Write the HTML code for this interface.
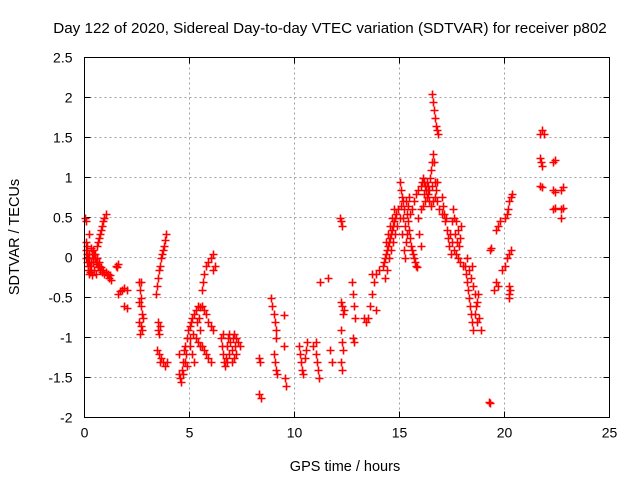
<!DOCTYPE html>
<html><head><meta charset="utf-8"><style>
body{margin:0;background:#fff;}
svg{display:block;font-family:"Liberation Sans",sans-serif;}
</style></head><body>
<svg id="chart" width="640" height="480" viewBox="0 0 640 480">
<text x="330" y="33" font-size="15.2" text-anchor="middle" fill="#000">Day 122 of 2020, Sidereal Day-to-day VTEC variation (SDTVAR) for receiver p802</text>
<text x="345" y="471" font-size="14.5" text-anchor="middle">GPS time / hours</text>
<text transform="translate(19,237) rotate(-90)" font-size="14.5" text-anchor="middle">SDTVAR / TECUs</text>
<g id="grid"></g>
<g id="ticks"></g>
<g id="marks"></g>
<rect x="84.5" y="57.5" width="525" height="360" fill="none" stroke="#000" stroke-width="1"/>
</svg>
<script>
const xTicks=[0,5,10,15,20,25];
const yTicks=[-2,-1.5,-1,-0.5,0,0.5,1,1.5,2,2.5];
const yTickLabels=["-2","-1.5","-1","-0.5","0","0.5","1","1.5","2","2.5"];
const vtec=[
[0.02,0.5],[0.05,0.45],[0.05,0.2],[0.08,0.1],[0.1,0.15],[0.1,-0.05],[0.12,0.05],[0.15,0],[0.18,-0.1],[0.2,0.05],[0.22,-0.05],[0.25,-0.1],[0.3,-0.05],[0.35,0.05],[0.4,0.1],[0.45,0.05],[0.5,0],[0.55,-0.05],[0.6,-0.08],[0.65,-0.12],[0.7,-0.1],[0.75,-0.15],[0.8,-0.12],[0.85,-0.18],[0.9,-0.15],[0.95,-0.2],[1.0,-0.18],[1.05,-0.22],[1.1,-0.2],[1.15,-0.25],[1.2,-0.22],[1.25,-0.28],
[0.3,-0.15],[0.4,-0.05],[0.5,0.05],[0.6,0.15],[0.7,0.25],[0.8,0.35],[0.9,0.45],[1.0,0.55],[0.65,0.2],[0.75,0.3],[0.85,0.4],[0.95,0.5],
[0.15,-0.15],[0.25,-0.18],[0.35,-0.22],[0.45,-0.15],[0.55,-0.2],[0.2,0.3],[0.3,0.12],[0.05,0.0],[0.1,0.05],[0.2,-0.2],[0.4,0.0],[0.6,0.0],[0.7,-0.05],
[1.5,-0.1],[1.55,-0.12],[1.6,-0.08],
[1.6,-0.45],[1.7,-0.42],[1.8,-0.4],[1.9,-0.38],[2.0,-0.4],[1.9,-0.6],[2.0,-0.63],
[2.6,-0.3],[2.65,-0.4],[2.7,-0.5],[2.7,-0.6],[2.75,-0.7],[2.6,-0.8],[2.7,-0.85],[2.75,-0.9],[2.65,-0.95],[2.8,-0.75],[2.6,-0.55],[2.7,-0.3],
[3.4,-0.45],[3.45,-0.35],[3.5,-0.25],[3.55,-0.15],[3.6,-0.1],[3.65,0.0],[3.7,0.05],[3.75,0.1],[3.8,0.15],[3.85,0.22],[3.9,0.3],
[3.5,-0.8],[3.5,-0.9],[3.55,-0.95],[3.6,-0.85],
[3.45,-1.15],[3.55,-1.2],[3.65,-1.25],[3.75,-1.3],[3.85,-1.35],[3.95,-1.3],[3.6,-1.3],
[4.5,-1.2],[4.5,-1.45],[4.55,-1.5],[4.6,-1.55],[4.65,-1.4],[4.7,-1.3],[4.75,-1.15],[4.8,-1.1],[4.85,-1.2],[4.9,-1.0],[4.95,-0.9],[5.0,-0.85],[5.05,-0.8],[5.1,-0.75],[5.0,-1.1],[5.1,-1.2],[5.2,-1.3],[4.9,-1.35],[4.7,-1.45],[4.8,-1.3],[5.0,-1.0],[5.15,-0.95],
[5.2,-0.7],[5.3,-0.65],[5.4,-0.6],[5.5,-0.62],[5.6,-0.6],[5.7,-0.65],[5.8,-0.7],[5.9,-0.8],[6.0,-0.85],[6.1,-0.9],[5.3,-1.0],[5.4,-1.05],[5.5,-1.1],[5.6,-1.1],[5.7,-1.15],[5.8,-1.2],[5.9,-1.25],[6.0,-1.3],[5.5,-0.9],[5.6,-0.4],[5.65,-0.3],[5.7,-0.2],[5.8,-0.1],[5.9,-0.05],[6.0,0.0],[6.1,0.05],[6.2,-0.1],[6.1,-0.15],[5.35,-0.8],[5.45,-0.75],
[6.5,-1.0],[6.55,-1.1],[6.6,-1.2],[6.65,-1.3],[6.7,-1.35],[6.75,-1.25],[6.8,-1.1],[6.85,-1.0],[6.9,-0.95],[6.95,-1.05],[7.0,-1.15],[7.05,-1.0],[7.1,-0.95],[7.15,-1.1],[7.2,-1.0],[7.3,-1.05],[7.4,-1.1],[6.8,-1.3],[7.0,-1.3],[7.2,-1.2],[6.6,-0.95],[6.9,-1.2],[7.1,-1.25],
[8.3,-1.25],[8.35,-1.3],[8.3,-1.7],[8.4,-1.75],
[8.9,-0.5],[8.95,-0.6],[9.0,-0.7],[9.05,-0.8],[9.1,-0.9],[9.1,-1.0],[9.0,-1.2],[9.05,-1.3],[9.1,-1.4],[9.15,-1.45],[9.5,-0.72],[9.5,-1.1],[9.55,-1.5],[9.6,-1.6],
[10.2,-1.1],[10.25,-1.2],[10.3,-1.3],[10.35,-1.4],[10.4,-1.45],[10.5,-1.25],[10.55,-1.15],[10.6,-1.05],
[10.9,-1.1],[11.0,-1.2],[11.05,-1.3],[11.1,-1.4],[11.15,-1.5],[11.2,-0.3],[11.6,-0.25],[11.7,-1.15],[11.8,-1.3],[11.0,-1.05],
[12.15,0.5],[12.2,0.45],[12.25,0.4],[12.2,-0.55],[12.25,-0.6],[12.3,-0.7],[12.2,-0.9],[12.25,-1.05],[12.3,-1.15],[12.2,-1.3],[12.25,-1.4],[12.35,-0.65],
[12.75,-0.3],[12.8,-0.45],[12.85,-0.6],[12.9,-0.75],[12.8,-1.0],[12.85,-1.05],
[13.3,-0.75],[13.4,-0.8],[13.5,-0.75],[13.6,-0.6],[13.7,-0.45],[13.8,-0.3],[13.9,-0.2],[14.0,-0.15],[13.7,-0.2],[13.9,-0.65],
[14.2,-0.1],[14.25,-0.05],[14.3,0.0],[14.35,0.05],[14.4,0.1],[14.45,0.15],[14.5,0.2],[14.55,0.25],[14.6,0.3],[14.65,0.35],[14.7,0.4],[14.75,0.45],[14.8,0.5],[14.85,0.55],[14.4,-0.15],[14.5,0.0],[14.6,0.1],[14.7,0.2],[14.8,0.3],[14.9,0.4],[14.3,-0.25],[14.35,0.2],[14.45,0.3],[14.55,0.4],[14.65,0.5],[14.75,0.6],[14.95,0.6],
[15.0,0.95],[15.05,0.85],[15.1,0.75],[15.15,0.7],[15.0,0.5],[15.1,0.3],[15.2,0.6],[15.25,0.4],[15.3,0.2],[15.35,0.3],[15.4,0.45],[15.45,0.35],[15.5,0.25],[15.55,0.15],[15.6,0.1],[15.65,0.05],[15.7,0.0],[15.75,-0.05],[15.8,-0.1],[15.85,-0.12],[15.5,0.55],[15.6,0.6],[15.7,0.7],[15.8,0.8],[15.9,0.85],[15.3,0.7],[15.4,0.65],[15.2,0.1],[15.25,0.0],[15.05,0.65],[15.15,0.5],[15.35,0.55],[15.45,0.75],
[16.0,0.9],[16.05,0.95],[16.1,1.0],[16.15,0.95],[16.2,0.9],[16.25,0.85],[16.3,0.95],[16.35,0.9],[16.4,0.85],[16.45,1.0],[16.5,1.1],[16.55,1.2],[16.6,1.3],[16.65,1.2],[16.7,0.95],[16.75,0.85],[16.8,0.95],[16.0,0.6],[16.1,0.65],[16.2,0.7],[16.3,0.75],[16.4,0.7],[16.5,0.65],[16.6,0.7],[16.7,0.75],[16.8,0.7],[16.9,0.6],[17.0,0.55],[15.9,0.5],[15.95,0.3],[16.0,0.15],[16.15,0.8],[16.35,0.8],[16.55,0.9],
[16.55,2.05],[16.6,1.95],[16.65,1.85],[16.7,1.75],[16.75,1.65],[16.8,1.6],[16.85,1.55],
[17.0,0.75],[17.05,0.65],[17.1,0.55],[17.15,0.45],[17.2,0.5],[17.25,0.35],[17.3,0.25],[17.35,0.15],[17.4,0.3],[17.5,0.45],[17.6,0.5],[17.7,0.45],[17.8,0.35],[17.9,0.25],[17.5,0.2],[17.6,0.1],[17.7,0.05],[17.8,0.0],[17.9,-0.05],[18.0,-0.1],[17.95,0.4],[17.55,0.6],[17.45,0.05],[17.65,0.3],[17.75,0.2],[17.85,0.15],
[18.1,-0.1],[18.15,-0.2],[18.2,-0.3],[18.25,-0.4],[18.3,-0.5],[18.35,-0.6],[18.4,-0.7],[18.45,-0.8],[18.5,-0.9],[18.2,0.0],[18.3,-0.15],[18.4,-0.25],[18.5,-0.35],[18.6,-0.45],[18.7,-0.55],[18.6,-0.7],[18.75,-0.45],[18.8,-0.75],[18.9,-0.9],[18.45,-0.1],[18.65,-0.6],[18.7,-0.8],
[19.25,-1.8],[19.3,-1.82],[19.3,0.1],[19.35,0.12],
[19.5,-0.4],[19.6,-0.3],[19.7,-0.35],
[19.6,0.35],[19.7,0.4],[19.8,0.45],
[20.0,0.5],[20.1,0.55],[20.15,0.6],[20.2,0.7],[20.3,0.75],[20.35,0.8],[19.9,-0.15],[20.0,-0.1],[20.1,0.0],[20.2,0.05],[20.3,0.1],[20.2,-0.35],[20.25,-0.4],[20.2,-0.45],[20.2,-0.5],
[21.7,1.55],[21.8,1.6],[21.9,1.55],[21.7,1.25],[21.75,1.2],[21.8,1.15],[21.7,0.9],[21.8,0.88],
[22.3,1.2],[22.4,1.22],[22.3,0.85],[22.4,0.82],[22.3,0.6],[22.4,0.62],
[22.7,0.85],[22.8,0.88],[22.7,0.6],[22.8,0.62],[22.7,0.5]
];
const L=84.5,R=609.5,T=57.5,B=417.5;
const X0=0,X1=25,Y0=-2,Y1=2.5;
function sx(v){return L+(v-X0)/(X1-X0)*(R-L);}
function sy(v){return B-(v-Y0)/(Y1-Y0)*(B-T);}
const NS="http://www.w3.org/2000/svg";
const grid=document.getElementById('grid'),ticks=document.getElementById('ticks'),marks=document.getElementById('marks');
function mk(tag,attrs,parent){const e=document.createElementNS(NS,tag);for(const k in attrs)e.setAttribute(k,attrs[k]);parent.appendChild(e);return e;}
xTicks.forEach(function(t){
  const x=sx(t);
  if(t>X0&&t<X1){const g=mk('line',{x1:x,x2:x,y1:T,y2:B,stroke:'#a0a0a0','stroke-dasharray':'2,3'},grid);
  
  }
  const tk=mk('path',{d:'M'+x+' '+B+'v-6M'+x+' '+T+'v6',stroke:'#000'},ticks);
  
  
  const lb=mk('text',{x:sx(t),y:B+20,'font-size':'14','text-anchor':'middle'},ticks);
  lb.textContent=String(t);
  
  
});
yTicks.forEach(function(t,i){
  const y=sy(t);
  if(t>Y0&&t<Y1){const g=mk('line',{x1:L,x2:R,y1:y,y2:y,stroke:'#a0a0a0','stroke-dasharray':'2,3'},grid);
  
  }
  const tk=mk('path',{d:'M'+L+' '+y+'h6M'+R+' '+y+'h-6',stroke:'#000'},ticks);
  
  
  const lb=mk('text',{x:L-12,y:y+5,'font-size':'14','text-anchor':'end'},ticks);
  lb.textContent=yTickLabels[i];
  
  
});
vtec.forEach(function(p){
  const x=Math.round(sx(p[0]))+0.5,y=Math.round(sy(p[1]))+0.5;
  const m=mk('path',{d:'M'+(x-4)+' '+y+'h8M'+x+' '+(y-4)+'v8',stroke:'#ff0000','stroke-width':'1.6'},marks);
  
  
});
</script>
</body></html>
